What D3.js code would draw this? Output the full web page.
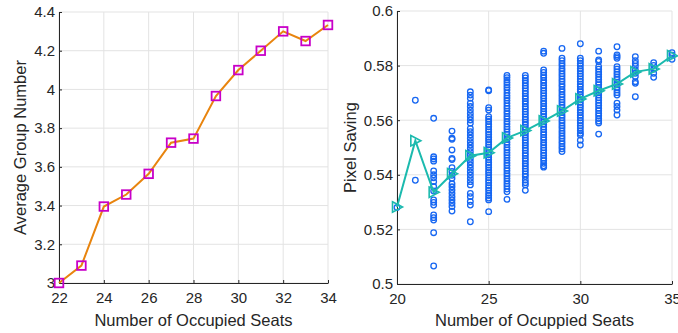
<!DOCTYPE html>
<html>
<head>
<meta charset="utf-8">
<script src="https://cdn.jsdelivr.net/npm/d3@7"></script>
<style>
  body { margin: 0; background: #fff; }
  svg { display: block; font-family: "Liberation Sans", Arial, sans-serif; }
</style>
</head>
<body>
<svg id="chart" width="678" height="333"></svg>
<script>
// left panel: average group number per seat count
const seats = [22, 23, 24, 25, 26, 27, 28, 29, 30, 31, 32, 33, 34];
const avgGroup = [3.0, 3.09, 3.395, 3.457, 3.564, 3.725, 3.746, 3.966, 4.1, 4.2, 4.3, 4.25, 4.333];
const leftXTicks = [22, 24, 26, 28, 30, 32, 34];
const leftYTicks = [3, 3.2, 3.4, 3.6, 3.8, 4, 4.2, 4.4];

// right panel: pixel saving samples per seat count + mean line
const scatterSeats = [20, 21, 22, 23, 24, 25, 26, 27, 28, 29, 30, 31, 32, 33, 34, 35];
const scatterSaving = [
  [0.528],
  [0.5673, 0.538],
  [0.5607, 0.5466, 0.5458, 0.5450, 0.5414, 0.5400, 0.5389, 0.5375, 0.5357, 0.5341, 0.5308, 0.5299, 0.5289, 0.5253, 0.5243, 0.5234, 0.5188, 0.5066],
  [0.5560, 0.5534, 0.5530, 0.5491, 0.5460, 0.5456, 0.5426, 0.5412, 0.5398, 0.5387, 0.5367, 0.5356, 0.5344, 0.5332, 0.5320, 0.5308, 0.5296, 0.5284, 0.5267],
  [0.5704, 0.5692, 0.5680, 0.5662, 0.5650, 0.5637, 0.5625, 0.5613, 0.5601, 0.5589, 0.5570, 0.5558, 0.5546, 0.5534, 0.5521, 0.5509, 0.5497, 0.5485, 0.5473, 0.5460, 0.5448, 0.5436, 0.5424, 0.5411, 0.5399, 0.5387, 0.5375, 0.5363, 0.5332, 0.5320, 0.5302, 0.5289, 0.5228],
  [0.5711, 0.5708, 0.5646, 0.5637, 0.5613, 0.5604, 0.5595, 0.5585, 0.5576, 0.5566, 0.5557, 0.5548, 0.5538, 0.5529, 0.5520, 0.5510, 0.5501, 0.5492, 0.5482, 0.5473, 0.5464, 0.5455, 0.5445, 0.5436, 0.5427, 0.5417, 0.5408, 0.5399, 0.5389, 0.5380, 0.5371, 0.5361, 0.5352, 0.5343, 0.5333, 0.5324, 0.5315, 0.5308, 0.5265],
  [0.5764, 0.5756, 0.5747, 0.5738, 0.5729, 0.5720, 0.5711, 0.5700, 0.5690, 0.5681, 0.5672, 0.5662, 0.5652, 0.5643, 0.5633, 0.5624, 0.5614, 0.5605, 0.5595, 0.5586, 0.5576, 0.5567, 0.5557, 0.5548, 0.5538, 0.5529, 0.5519, 0.5510, 0.5500, 0.5491, 0.5481, 0.5472, 0.5462, 0.5453, 0.5443, 0.5434, 0.5424, 0.5415, 0.5405, 0.5396, 0.5386, 0.5377, 0.5367, 0.5358, 0.5348, 0.5338, 0.5310],
  [0.5764, 0.5755, 0.5745, 0.5736, 0.5726, 0.5717, 0.5707, 0.5698, 0.5688, 0.5679, 0.5669, 0.5660, 0.5650, 0.5641, 0.5631, 0.5622, 0.5612, 0.5603, 0.5593, 0.5584, 0.5574, 0.5565, 0.5555, 0.5546, 0.5536, 0.5527, 0.5517, 0.5508, 0.5498, 0.5489, 0.5479, 0.5470, 0.5460, 0.5451, 0.5441, 0.5432, 0.5422, 0.5413, 0.5403, 0.5394, 0.5381, 0.5371, 0.5363, 0.5343],
  [0.5853, 0.5845, 0.5784, 0.5775, 0.5765, 0.5756, 0.5746, 0.5737, 0.5727, 0.5718, 0.5708, 0.5699, 0.5689, 0.5680, 0.5670, 0.5661, 0.5651, 0.5642, 0.5632, 0.5623, 0.5613, 0.5604, 0.5594, 0.5585, 0.5575, 0.5566, 0.5556, 0.5547, 0.5537, 0.5528, 0.5518, 0.5509, 0.5499, 0.5490, 0.5480, 0.5471, 0.5461, 0.5452, 0.5442, 0.5433, 0.5428],
  [0.5863, 0.5827, 0.5818, 0.5808, 0.5799, 0.5789, 0.5780, 0.5770, 0.5761, 0.5751, 0.5742, 0.5732, 0.5723, 0.5713, 0.5704, 0.5694, 0.5685, 0.5675, 0.5666, 0.5656, 0.5647, 0.5637, 0.5628, 0.5618, 0.5609, 0.5599, 0.5590, 0.5580, 0.5571, 0.5561, 0.5552, 0.5542, 0.5533, 0.5523, 0.5514, 0.5504, 0.5495, 0.5485],
  [0.5880, 0.5827, 0.5818, 0.5808, 0.5799, 0.5789, 0.5780, 0.5770, 0.5761, 0.5751, 0.5742, 0.5732, 0.5723, 0.5713, 0.5704, 0.5694, 0.5685, 0.5675, 0.5666, 0.5656, 0.5647, 0.5637, 0.5628, 0.5618, 0.5609, 0.5599, 0.5590, 0.5580, 0.5571, 0.5561, 0.5552, 0.5546, 0.5527, 0.5509],
  [0.5853, 0.5821, 0.5815, 0.5796, 0.5787, 0.5777, 0.5768, 0.5758, 0.5749, 0.5739, 0.5730, 0.5720, 0.5711, 0.5701, 0.5692, 0.5682, 0.5673, 0.5663, 0.5654, 0.5644, 0.5635, 0.5625, 0.5616, 0.5606, 0.5597, 0.5590, 0.5549],
  [0.5869, 0.5839, 0.5833, 0.5827, 0.5796, 0.5787, 0.5777, 0.5768, 0.5758, 0.5749, 0.5739, 0.5730, 0.5720, 0.5711, 0.5701, 0.5692, 0.5662, 0.5650, 0.5637, 0.5619],
  [0.5833, 0.5818, 0.5808, 0.5798, 0.5784, 0.5772, 0.5760, 0.5741, 0.5735, 0.5686],
  [0.5811, 0.5801, 0.5787, 0.5772, 0.5757],
  [0.5847, 0.5838, 0.5823]
];
const meanSeats = [20, 21, 22, 23, 24, 25, 26, 27, 28, 29, 30, 31, 32, 33, 34, 35];
const meanSaving = [0.5282, 0.5525, 0.5336, 0.5404, 0.5470, 0.5481, 0.5535, 0.5562, 0.5597, 0.5634, 0.5678, 0.5708, 0.5733, 0.5777, 0.5788, 0.5836];
const rightXTicks = [20, 25, 30, 35];
const rightYTicks = [0.5, 0.52, 0.54, 0.56, 0.58, 0.6];

const TEXT = "#262626";
const GRID = "#e3e3e3";

const svg = d3.select("#chart");

function frame(x, y, xTicks, yTicks, yFmt, xTitle, yTitle, yTitleX) {
  const g = svg.append("g");
  const [x0, x1] = x.range();
  const [y0, y1] = y.range();

  // grid lines, including the ones on the top and right edges
  g.append("g").selectAll("line").data(xTicks).join("line")
    .attr("x1", (d) => x(d)).attr("x2", (d) => x(d))
    .attr("y1", y0).attr("y2", y1)
    .attr("stroke", GRID).attr("stroke-width", 1);
  g.append("g").selectAll("line").data(yTicks).join("line")
    .attr("x1", x0).attr("x2", x1)
    .attr("y1", (d) => y(d)).attr("y2", (d) => y(d))
    .attr("stroke", GRID).attr("stroke-width", 1);

  const xa = g.append("g")
    .attr("transform", `translate(0,${y0})`)
    .call(d3.axisBottom(x).tickValues(xTicks).tickSize(-3).tickSizeOuter(0).tickPadding(9));
  const ya = g.append("g")
    .attr("transform", `translate(${x0},0)`)
    .call(d3.axisLeft(y).tickValues(yTicks).tickFormat(yFmt).tickSize(-3).tickSizeOuter(0).tickPadding(4));

  [xa, ya].forEach((a) => {
    a.select(".domain").attr("stroke", TEXT);
    a.selectAll(".tick line").attr("stroke", TEXT);
    a.selectAll(".tick text")
      .attr("fill", TEXT)
      .style("font-size", "15px")
      .style("font-family", "'Liberation Sans', Arial, sans-serif");
  });

  g.append("text")
    .attr("x", (x0 + x1) / 2).attr("y", 326)
    .attr("text-anchor", "middle")
    .attr("fill", TEXT)
    .style("font-size", "16.5px")
    .text(xTitle);

  g.append("text")
    .attr("transform", `translate(${yTitleX},${(y0 + y1) / 2}) rotate(-90)`)
    .attr("text-anchor", "middle")
    .attr("fill", TEXT)
    .style("font-size", "16.5px")
    .text(yTitle);
  return g;
}

// ---- left panel
const xL = d3.scaleLinear().domain([22, 34]).range([59, 328]);
const yL = d3.scaleLinear().domain([3, 4.4]).range([283, 12]);
frame(xL, yL, leftXTicks, leftYTicks, (d) => d3.format("~g")(d),
  "Number of Occupied Seats", "Average Group Number", 26);

const leftPts = seats.map((s, i) => [s, avgGroup[i]]);
svg.append("path")
  .datum(leftPts)
  .attr("fill", "none")
  .attr("stroke", "#e8840e")
  .attr("stroke-width", 2)
  .attr("d", d3.line().x((d) => xL(d[0])).y((d) => yL(d[1])));

svg.append("g").selectAll("rect").data(leftPts).join("rect")
  .attr("x", (d) => xL(d[0]) - 4.3)
  .attr("y", (d) => yL(d[1]) - 4.3)
  .attr("width", 8.6).attr("height", 8.6)
  .attr("fill", "none")
  .attr("stroke", "#c800c8")
  .attr("stroke-width", 1.8);

// ---- right panel
const xR = d3.scaleLinear().domain([20, 35]).range([397, 672]);
const yR = d3.scaleLinear().domain([0.5, 0.6]).range([284, 11]);
frame(xR, yR, rightXTicks, rightYTicks, (d) => d3.format("~g")(d),
  "Number of Ocuppied Seats", "Pixel Saving", 356);

const dots = scatterSeats.flatMap((s, i) => scatterSaving[i].map((v) => [s, v]));
svg.append("g").selectAll("circle").data(dots).join("circle")
  .attr("cx", (d) => xR(d[0]))
  .attr("cy", (d) => yR(d[1]))
  .attr("r", 2.8)
  .attr("fill", "none")
  .attr("stroke", "#1767f2")
  .attr("stroke-width", 1.3);

const meanPts = meanSeats.map((s, i) => [s, meanSaving[i]]);
svg.append("path")
  .datum(meanPts)
  .attr("fill", "none")
  .attr("stroke", "#1bbaae")
  .attr("stroke-width", 2)
  .attr("d", d3.line().x((d) => xR(d[0])).y((d) => yR(d[1])));

svg.append("g").selectAll("path").data(meanPts).join("path")
  .attr("transform", (d) => `translate(${xR(d[0])},${yR(d[1])})`)
  .attr("d", "M-4.5,-5.2L5.5,0L-4.5,5.2Z")
  .attr("fill", "none")
  .attr("stroke", "#1bbaae")
  .attr("stroke-width", 1.6);
</script>
</body>
</html>
